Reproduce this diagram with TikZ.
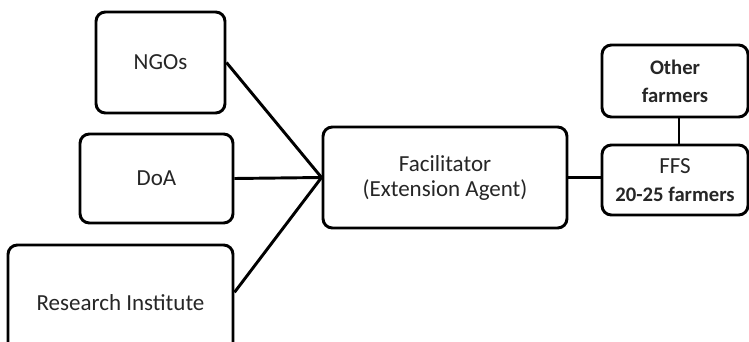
\documentclass[tikz,border=0pt]{standalone}
\usepackage{fontspec}
\setmainfont{Carlito}
\begin{document}
\begin{tikzpicture}[x=0.75pt,y=-0.75pt,
  box/.style={draw=black, line width=2.2pt, rounded corners=7pt, fill=white,
    align=center, inner sep=0pt, text=black!85,
    font=\fontsize{17.25}{18.75}\selectfont},
  smallbox/.style={box, font=\fontsize{15.5}{21}\selectfont},
  link/.style={draw=black, line width=2.2pt}]
\useasboundingbox (0,0) rectangle (749,342);
\begin{scope}
\clip (0,0) rectangle (749,342);
% sources
\node[box, minimum width=96.75pt, minimum height=75.75pt] (ngo) at (160.5,62.5) {NGOs};
\node[box, minimum width=114.75pt, minimum height=66.75pt] (doa) at (156.5,178.5) {DoA};
\node[box, minimum width=168.75pt, minimum height=87pt] (ri) at (120.5,303) {Research Institute};
% extension agent
\node[box, minimum width=183pt, minimum height=75.75pt] (fac) at (445,177.5) {Facilitator\\(Extension Agent)};
% farmers
\node[smallbox, minimum width=109.5pt, minimum height=54pt] (other) at (675,81) {\bfseries Other\\\bfseries farmers};
\node[smallbox, minimum width=109.5pt, minimum height=52.5pt] (ffs) at (675,180)
  {\fontsize{17.25}{21}\selectfont FFS\\\fontsize{15.5}{21}\selectfont\bfseries 20-25 farmers};
% connectors
\draw[link] (ngo.east) -- (fac.west);
\draw[link] (doa.east) -- (fac.west);
\draw[link] ([yshift=8pt]ri.east) -- (fac.west);
\draw[link] (fac.east) -- (fac.east -| ffs.west);
\draw[link] ([xshift=3pt]other.south) -- ([xshift=3pt]ffs.north);
\end{scope}
\end{tikzpicture}
\end{document}
